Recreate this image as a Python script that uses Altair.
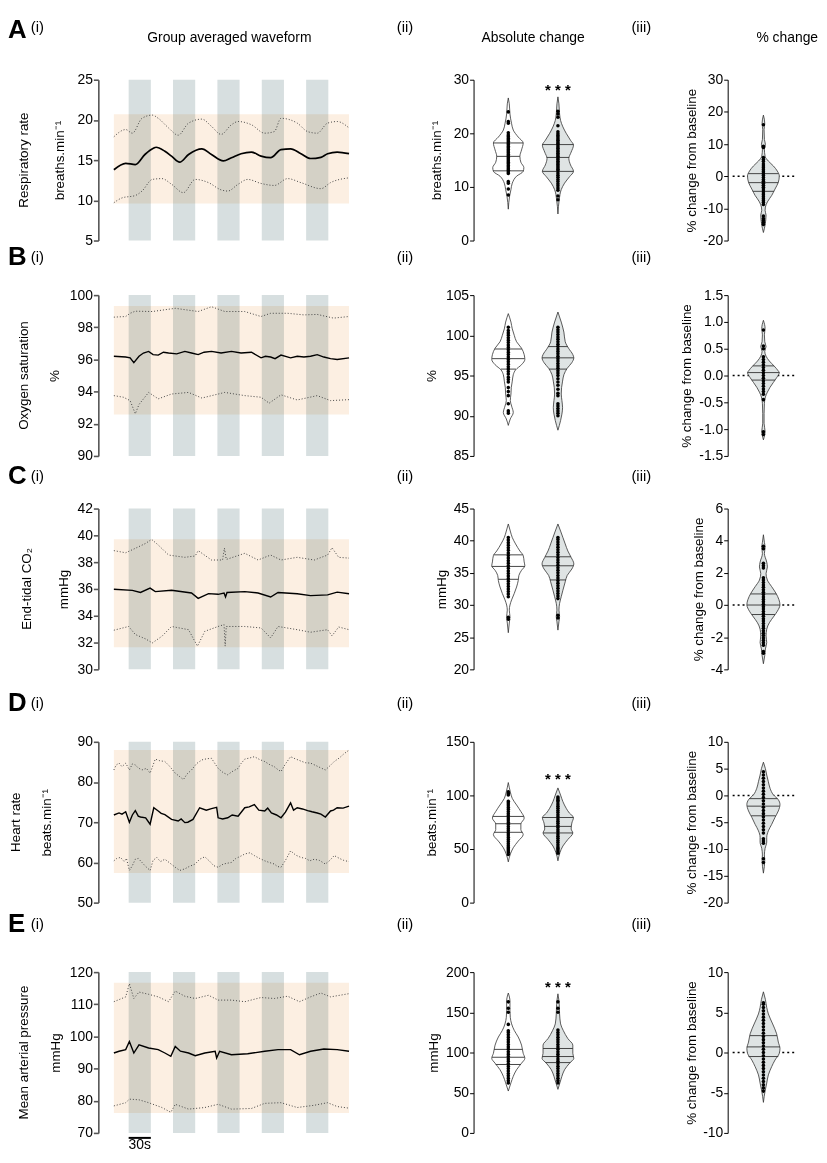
import altair as alt
import pandas as pd

FONT = "Liberation Sans"
W1, W2, W3, H = 260, 138, 75, 162
GAP = 118
HALF = 1 / 3

# ---------------- protocol ----------------
STIM_START = [20, 80, 140, 200, 260]
STIM_END = [50, 110, 170, 230, 290]
REC_END = 318

# ---------------- group averaged waveforms (time s, value) ----------------
RR_MEAN = [(0, 13.8), (16, 14.6), (29, 14.45), (42, 15.7), (54, 16.5), (57, 16.6), (69, 16.1), (78, 15.5),
           (89, 14.75), (101, 15.7), (119, 16.4), (132, 15.7), (148, 14.9), (159, 15.3), (172, 15.8),
           (186, 16.0), (199, 15.5), (212, 15.3), (226, 16.3), (239, 16.4), (253, 15.8), (266, 15.2),
           (280, 15.35), (289, 15.8), (302, 16.0), (318, 15.8)]
RR_UPPER = [(0, 17.9), (16, 18.8), (25, 18.35), (38, 20.2), (52, 20.6), (60, 20.2), (74, 19.0), (87, 18.1),
            (101, 19.6), (119, 20.1), (132, 19.2), (145, 18.2), (159, 19.4), (168, 19.8), (186, 19.4),
            (204, 18.35), (217, 18.55), (226, 20.2), (248, 19.6), (262, 18.55), (275, 18.35), (289, 19.6),
            (302, 19.8), (318, 19.0)]
RR_LOWER = [(0, 9.7), (11, 10.3), (29, 10.6), (38, 11.15), (52, 12.6), (65, 12.7), (78, 12.0), (94, 10.95),
            (110, 12.6), (128, 12.2), (145, 11.3), (154, 11.15), (168, 12.0), (181, 12.6), (199, 12.1),
            (217, 11.85), (235, 12.7), (253, 12.2), (280, 11.45), (293, 12.2), (318, 12.8)]
RR_BAND = [9.6, 20.7]

SPO2_MEAN = [(0, 96.2), (16, 96.15), (22, 96.1), (27, 95.8), (34, 96.2), (40, 96.4), (47, 96.5), (53, 96.3),
             (60, 96.27), (67, 96.45), (74, 96.4), (85, 96.35), (96, 96.5), (105, 96.4), (114, 96.3),
             (122, 96.45), (132, 96.5), (145, 96.4), (159, 96.5), (172, 96.4), (186, 96.45), (199, 96.1),
             (205, 96.2), (212, 96.15), (218, 96.05), (226, 96.27), (239, 96.1), (248, 96.2), (257, 96.15),
             (266, 96.2), (275, 96.3), (284, 96.15), (293, 96.05), (302, 96.0), (318, 96.1)]
SPO2_UPPER = [(0, 98.63), (16, 98.67), (22, 98.87), (29, 99.0), (52, 98.98), (83, 99.18), (114, 98.98),
              (132, 99.28), (150, 98.98), (177, 98.98), (199, 98.67), (212, 98.87), (235, 98.87),
              (257, 98.77), (275, 98.8), (297, 98.57), (318, 98.67)]
SPO2_LOWER = [(0, 93.75), (13, 93.65), (22, 93.44), (29, 92.62), (34, 93.2), (47, 93.95), (60, 93.55),
              (78, 93.85), (101, 93.95), (119, 93.6), (150, 93.95), (177, 93.75), (199, 93.65), (210, 93.28),
              (226, 93.8), (248, 93.48), (275, 93.75), (293, 93.44), (318, 93.5)]
SPO2_BAND = [92.58, 99.32]

CO2_MEAN = [(0, 35.98), (25, 35.89), (36, 35.74), (49, 36.06), (56, 35.8), (78, 35.9), (105, 35.7),
            (114, 35.3), (128, 35.65), (141, 35.6), (149, 35.7), (151, 35.4), (153, 35.74), (177, 35.8),
            (195, 35.7), (212, 35.4), (222, 35.74), (248, 35.64), (266, 35.5), (289, 35.56), (302, 35.76),
            (318, 35.64)]
CO2_UPPER = [(0, 38.86), (16, 38.7), (29, 39.03), (43, 39.4), (51, 39.7), (60, 39.28), (74, 38.53),
             (96, 38.36), (110, 38.46), (114, 38.86), (132, 38.16), (147, 38.16), (149.5, 39.05), (152, 38.2),
             (177, 38.66), (195, 38.16), (212, 38.53), (226, 38.16), (248, 38.36), (271, 38.16), (289, 38.53),
             (295, 39.08), (304, 38.36), (318, 38.3)]
CO2_LOWER = [(0, 32.92), (20, 33.2), (29, 32.6), (43, 32.27), (52, 31.97), (65, 32.47), (78, 33.2),
             (101, 32.96), (113, 31.73), (123, 32.84), (141, 33.2), (149, 33.34), (150.5, 31.73), (152, 33.2),
             (177, 33.2), (199, 33.09), (212, 32.35), (222, 33.2), (248, 32.96), (266, 32.77), (289, 32.96),
             (295, 32.5), (304, 33.16), (318, 32.96)]
CO2_BAND = [31.65, 39.7]

HR_MEAN = [(0, 71.8), (7, 72.3), (11, 72.0), (16, 72.6), (21, 70.0), (25, 71.8), (29, 72.9), (33, 71.5),
           (36, 71.3), (43, 71.1), (49, 69.5), (54, 73.6), (60, 72.8), (64, 72.2), (69, 71.9), (78, 70.7),
           (87, 70.3), (91, 70.8), (96, 69.9), (100, 70.0), (107, 70.7), (116, 73.6), (125, 73.0), (132, 73.4),
           (139, 73.7), (141, 71.1), (147, 70.8), (154, 71.1), (160, 71.8), (168, 71.5), (177, 73.6),
           (183, 73.8), (190, 74.4), (196, 73.0), (204, 72.8), (208, 73.5), (213, 72.3), (220, 71.8),
           (226, 71.1), (232, 72.5), (239, 74.8), (243, 73.0), (248, 73.6), (255, 73.3), (262, 72.9),
           (268, 72.6), (275, 72.3), (280, 72.0), (286, 71.3), (293, 72.8), (297, 73.0), (302, 73.6),
           (310, 73.5), (318, 74.0)]
HR_UPPER = [(0, 83.0), (3, 84.2), (7, 84.7), (11, 83.8), (16, 84.7), (21, 83.0), (25, 84.5), (29, 84.25),
            (33, 83.5), (38, 83.0), (44, 83.4), (49, 82.2), (56, 85.7), (62, 85.3), (69, 85.1), (75, 84.0),
            (83, 82.2), (88, 81.5), (94, 80.6), (99, 82.0), (105, 83.0), (112, 84.6), (119, 85.5),
            (126, 85.8), (132, 85.9), (137, 84.5), (141, 83.4), (148, 82.3), (154, 81.8), (160, 82.6),
            (168, 83.4), (172, 84.6), (177, 85.7), (184, 86.0), (190, 86.3), (197, 85.6), (204, 85.1),
            (210, 84.4), (217, 83.8), (221, 83.2), (226, 82.6), (232, 84.5), (239, 86.3), (245, 85.8),
            (253, 85.2), (259, 84.8), (266, 84.7), (272, 84.2), (280, 83.5), (286, 83.0), (292, 84.0),
            (298, 85.1), (305, 86.0), (311, 87.0), (318, 87.95)]
HR_LOWER = [(0, 60.4), (4, 61.0), (9, 61.25), (14, 60.2), (17, 61.0), (21, 58.0), (25, 59.2), (29, 60.8),
            (33, 61.0), (38, 60.0), (43, 59.0), (49, 58.0), (53, 60.5), (58, 61.25), (63, 60.2), (69, 60.8),
            (76, 59.8), (83, 58.8), (89, 58.0), (96, 58.4), (102, 59.0), (110, 59.6), (116, 60.8),
            (123, 61.4), (130, 60.2), (135, 59.2), (141, 58.8), (148, 59.6), (159, 60.0), (165, 61.0),
            (172, 61.6), (177, 62.1), (184, 62.4), (190, 61.7), (197, 61.0), (204, 60.4), (210, 60.0),
            (217, 59.6), (221, 59.0), (226, 58.8), (232, 60.5), (239, 62.9), (246, 61.8), (253, 61.25),
            (259, 61.0), (265, 60.4), (271, 60.8), (278, 60.5), (286, 59.6), (292, 60.5), (298, 61.7),
            (305, 61.0), (311, 60.5), (318, 60.2)]
HR_BAND = [57.4, 87.95]

MAP_MEAN = [(0, 94.85), (7, 95.4), (16, 95.9), (21, 98.4), (27, 94.85), (34, 97.4), (47, 96.4), (60, 95.9),
            (69, 94.85), (77, 93.8), (83, 96.9), (90, 95.4), (101, 94.85), (110, 94.0), (123, 94.85),
            (137, 95.4), (139, 93.3), (143, 95.4), (159, 94.3), (181, 94.6), (204, 95.4), (222, 95.9),
            (239, 95.9), (251, 94.3), (266, 95.4), (284, 96.1), (302, 95.9), (318, 95.4)]
MAP_UPPER = [(0, 110.8), (16, 112.3), (21, 116.4), (27, 111.8), (34, 113.8), (47, 113.1), (60, 112.3),
             (74, 110.8), (83, 114.1), (96, 112.5), (110, 111.8), (128, 112.8), (141, 111.3), (159, 111.3),
             (177, 110.8), (199, 112.1), (217, 111.8), (235, 112.5), (251, 110.8), (266, 112.3), (280, 113.5),
             (293, 112.3), (318, 113.3)]
MAP_LOWER = [(0, 78.4), (16, 79.4), (21, 80.5), (34, 80.3), (47, 79.4), (65, 77.9), (77, 76.4), (83, 78.9),
             (101, 77.4), (123, 77.9), (141, 78.9), (159, 77.4), (186, 77.6), (204, 79.2), (226, 79.4),
             (248, 77.9), (271, 78.6), (289, 79.4), (302, 78.2), (318, 77.7)]
MAP_BAND = [76.2, 116.7]

# ---------------- violins: (value, relative width) ----------------
RR_ABS_BASE = [(5.85, 0), (8.3, 0.08), (9.5, 0.16), (10.7, 0.24), (12.0, 0.5), (12.9, 0.9), (13.6, 0.94),
               (14.6, 0.76), (15.7, 0.7), (16.9, 0.8), (18.2, 0.9), (19.3, 0.6), (20.6, 0.3), (21.8, 0.2),
               (23.6, 0.1), (25.5, 0.06), (26.6, 0)]
RR_ABS_BASE_Q = [(13.0, 0.92), (15.7, 0.7), (18.2, 0.9)]
RR_ABS_BASE_DOTS = [8.5, 9.6, 10.7, 11.0, 12.5, 12.8, 13.1, 13.4, 13.7, 14.0, 14.3, 14.6, 14.9, 15.2, 15.5,
                    15.8, 16.1, 16.4, 16.7, 17.0, 17.3, 17.6, 17.9, 18.2, 18.5, 18.8, 19.1, 19.4, 19.7, 20.1,
                    21.9, 22.2, 24.0]
RR_ABS_STIM = [(4.95, 0), (7.65, 0.08), (9.5, 0.2), (10.7, 0.4), (11.9, 0.7), (12.9, 0.94), (14.1, 0.76),
               (15.3, 0.66), (16.5, 0.8), (17.8, 0.94), (18.7, 0.76), (20.0, 0.5), (21.2, 0.3), (22.4, 0.16),
               (23.6, 0.1), (25.5, 0.06), (26.8, 0)]
RR_ABS_STIM_Q = [(12.9, 0.94), (15.5, 0.67), (17.9, 0.94)]
RR_ABS_STIM_DOTS = [7.6, 8.3, 9.4, 9.8, 10.2, 10.6, 11.0, 11.4, 11.8, 12.2, 12.6, 13.0, 13.3, 13.6, 13.9,
                    14.2, 14.5, 14.8, 15.1, 15.4, 15.7, 16.0, 16.3, 16.6, 16.9, 17.2, 17.5, 17.8, 18.1, 18.4,
                    18.7, 19.0, 19.3, 19.6, 19.9, 20.3, 21.4, 23.0, 23.6, 24.1]
RR_PCT = [(-17.5, 0), (-15.2, 0.1), (-13.7, 0.14), (-12.1, 0.16), (-10.6, 0.1), (-9.6, 0.12), (-8.0, 0.24),
          (-6.0, 0.5), (-4.0, 0.7), (-1.9, 0.9), (0.1, 0.96), (1.6, 0.84), (3.2, 0.6), (4.7, 0.3), (6.2, 0.1),
          (8.4, 0.06), (9.9, 0.12), (11.4, 0.06), (14.5, 0.04), (16.5, 0.08), (19.0, 0)]
RR_PCT_Q = [(-4.7, 0.64), (-2.0, 0.9), (0.8, 0.92)]
RR_PCT_DOTS = [-15.0, -14.4, -13.8, -13.2, -12.4, -8.8, -8.2, -7.6, -7.0, -6.4, -5.8, -5.2, -4.6, -4.0, -3.4,
               -2.8, -2.2, -1.6, -1.0, -0.4, 0.2, 0.8, 1.4, 2.0, 2.6, 3.2, 3.8, 4.6, 5.2, 5.8, 8.9, 9.3, 16.0]

SPO2_ABS_BASE = [(88.8, 0), (89.6, 0.12), (90.4, 0.3), (91.2, 0.2), (91.9, 0.12), (92.7, 0.16), (93.5, 0.18),
                 (94.3, 0.24), (95.1, 0.3), (95.7, 0.44), (96.35, 0.8), (97.0, 1.0), (97.6, 0.96), (98.4, 0.8),
                 (99.2, 0.5), (100.0, 0.36), (100.8, 0.24), (101.65, 0.16), (102.7, 0)]
SPO2_ABS_BASE_Q = [(95.8, 0.46), (97.1, 0.98), (98.3, 0.82)]
SPO2_ABS_BASE_DOTS = [90.3, 90.6, 91.5, 92.5, 93.0, 93.5, 94.2, 94.5, 94.8, 95.2, 95.5, 95.8, 96.1, 96.4,
                      96.7, 97.0, 97.3, 97.6, 97.9, 98.2, 98.5, 98.8, 99.1, 99.4, 99.7, 100.0, 100.3, 100.6,
                      101.0]
SPO2_ABS_STIM = [(88.2, 0), (89.4, 0.16), (90.2, 0.24), (91.0, 0.28), (91.9, 0.24), (92.7, 0.2), (93.5, 0.22),
                 (94.3, 0.28), (95.1, 0.36), (95.9, 0.56), (96.6, 0.84), (97.2, 0.96), (97.6, 0.9),
                 (98.4, 0.64), (99.2, 0.44), (100.4, 0.36), (101.65, 0.2), (102.9, 0)]
SPO2_ABS_STIM_Q = [(95.8, 0.54), (97.2, 0.96), (98.6, 0.6)]
SPO2_ABS_STIM_DOTS = [90.0, 90.3, 90.6, 90.9, 91.2, 91.5, 92.5, 92.8, 93.3, 93.8, 94.2, 94.6, 95.0, 95.3,
                      95.6, 95.9, 96.2, 96.5, 96.8, 97.1, 97.4, 97.7, 98.0, 98.3, 98.6, 98.9, 99.2, 99.5,
                      99.8, 100.1, 100.4, 100.7, 101.0]
SPO2_PCT = [(-1.2, 0), (-1.04, 0.1), (-0.89, 0.04), (-0.71, 0.04), (-0.52, 0.06), (-0.4, 0.12), (-0.31, 0.24),
            (-0.22, 0.4), (-0.13, 0.6), (-0.04, 0.8), (0.055, 0.96), (0.085, 0.9), (0.18, 0.64), (0.27, 0.36),
            (0.36, 0.16), (0.45, 0.08), (0.54, 0.16), (0.63, 0.08), (0.76, 0.06), (0.88, 0.1), (1.03, 0)]
SPO2_PCT_Q = [(-0.085, 0.7), (0.055, 0.96), (0.18, 0.64)]
SPO2_PCT_DOTS = [-1.1, -1.05, -0.45, -0.35, -0.3, -0.25, -0.2, -0.15, -0.1, -0.05, 0.0, 0.05, 0.1, 0.15, 0.2,
                 0.25, 0.3, 0.35, 0.5, 0.55, 0.85]

CO2_ABS_BASE = [(25.7, 0), (27.2, 0.06), (28.2, 0.1), (29.2, 0.06), (30.0, 0.1), (30.8, 0.2), (31.8, 0.36),
                (32.8, 0.5), (33.8, 0.6), (34.6, 0.64), (35.4, 0.8), (36.1, 1.0), (36.7, 0.96), (37.7, 0.9),
                (38.4, 0.7), (39.5, 0.44), (40.5, 0.24), (41.5, 0.12), (42.6, 0)]
CO2_ABS_BASE_Q = [(34.0, 0.6), (36.0, 1.0), (37.8, 0.88)]
CO2_ABS_BASE_DOTS = [27.8, 28.1, 31.3, 31.7, 32.1, 32.5, 32.9, 33.3, 33.7, 34.1, 34.5, 34.9, 35.3, 35.7, 36.1,
                     36.5, 36.9, 37.3, 37.7, 38.1, 38.5, 38.9, 39.3, 39.7, 40.1, 40.5]
CO2_ABS_STIM = [(26.1, 0), (27.4, 0.06), (28.2, 0.1), (29.2, 0.06), (30.25, 0.1), (31.3, 0.2), (32.3, 0.3),
                (33.6, 0.44), (34.6, 0.56), (35.6, 0.84), (36.4, 0.96), (37.4, 0.8), (38.4, 0.6), (39.5, 0.44),
                (40.5, 0.3), (41.5, 0.16), (42.6, 0)]
CO2_ABS_STIM_Q = [(33.9, 0.48), (36.1, 0.94), (37.5, 0.78)]
CO2_ABS_STIM_DOTS = [28.0, 28.4, 31.0, 31.4, 31.8, 32.2, 32.6, 33.0, 33.4, 33.8, 34.2, 34.6, 35.0, 35.4, 35.8,
                     36.2, 36.6, 37.0, 37.4, 37.8, 38.2, 38.6, 39.0, 39.4, 39.8, 40.2, 40.5]
CO2_PCT = [(-3.65, 0), (-3.14, 0.08), (-2.73, 0.12), (-2.33, 0.2), (-1.92, 0.16), (-1.5, 0.2), (-1.1, 0.36),
           (-0.69, 0.64), (-0.39, 0.84), (0.02, 1.0), (0.33, 0.94), (0.73, 0.76), (1.14, 0.5), (1.55, 0.24),
           (1.96, 0.16), (2.37, 0.24), (2.67, 0.2), (3.2, 0.06), (3.6, 0.1), (3.9, 0.06), (4.37, 0)]
CO2_PCT_Q = [(-0.59, 0.7), (0.0, 1.0), (0.69, 0.78)]
CO2_PCT_DOTS = [-3.0, -2.9, -2.5, -2.35, -2.2, -2.05, -1.9, -1.75, -1.6, -1.45, -1.3, -1.15, -1.0, -0.85, -0.7,
                -0.55, -0.4, -0.25, -0.1, 0.05, 0.2, 0.35, 0.5, 0.65, 0.8, 0.95, 1.1, 1.25, 1.4, 1.55, 1.7,
                2.3, 2.45, 2.6, 3.5, 3.65]

HR_ABS_BASE = [(38, 0), (45.1, 0.12), (51.2, 0.3), (57.4, 0.6), (63.5, 0.9), (68.1, 0.76), (73.3, 0.76),
               (78.8, 0.96), (85.0, 0.76), (91.1, 0.5), (97.2, 0.24), (103.4, 0.12), (112, 0)]
HR_ABS_BASE_Q = [(65.6, 0.86), (73.6, 0.76), (80.4, 0.94)]
HR_ABS_BASE_DOTS = [45.0, 47.0, 48.5, 50.0, 51.5, 53.0, 55.0, 57.0, 59.0, 61.0, 63.0, 65.0, 67.0, 69.0, 71.0,
                    73.0, 75.0, 77.0, 79.0, 81.0, 83.0, 85.0, 87.0, 89.0, 91.0, 93.0, 94.5, 100.5, 102.0, 103.5]
HR_ABS_STIM = [(39, 0), (46.6, 0.12), (52.8, 0.3), (58.9, 0.6), (65.0, 0.9), (68.7, 0.8), (74.2, 0.84),
               (79.4, 0.94), (83.4, 0.7), (88.0, 0.5), (94.2, 0.3), (100.3, 0.16), (107, 0)]
HR_ABS_STIM_Q = [(65.0, 0.9), (71.1, 0.8), (79.4, 0.94)]
HR_ABS_STIM_DOTS = [46.0, 47.5, 49.0, 50.5, 52.0, 54.0, 56.0, 58.0, 60.0, 62.0, 64.0, 66.0, 68.0, 70.0, 72.0,
                    74.0, 76.0, 78.0, 80.0, 82.0, 84.0, 86.0, 88.0, 90.0, 92.0, 94.0, 95.5, 97.0, 98.5]
HR_PCT = [(-14.5, 0), (-12.1, 0.08), (-11.1, 0.06), (-9.9, 0.1), (-8.7, 0.2), (-7.8, 0.2), (-6.6, 0.3),
          (-5.4, 0.5), (-4.1, 0.7), (-2.9, 0.9), (-1.7, 1.0), (-0.8, 0.9), (0.12, 0.6), (1.34, 0.4),
          (2.56, 0.3), (3.8, 0.2), (5.0, 0.12), (6.2, 0)]
HR_PCT_Q = [(-3.8, 0.74), (-2.0, 0.98), (-0.6, 0.86)]
HR_PCT_DOTS = [-12.5, -11.8, -8.9, -8.5, -8.1, -7.0, -6.4, -5.8, -5.2, -4.6, -4.0, -3.4, -2.8, -2.2, -1.6,
               -1.0, -0.4, 0.2, 0.8, 1.4, 2.0, 2.6, 3.2, 3.8, 4.4]

MAP_ABS_BASE = [(52.1, 0), (62.3, 0.16), (70.4, 0.3), (78.6, 0.5), (86.7, 0.8), (92.8, 1.0), (99.0, 0.9),
                (109.2, 0.8), (119.3, 0.6), (127.5, 0.36), (135.6, 0.2), (143.8, 0.12), (152, 0.1),
                (164, 0.1), (174, 0)]
MAP_ABS_BASE_Q = [(85.1, 0.76), (94.1, 0.98), (103.9, 0.86)]
MAP_ABS_BASE_DOTS = [62, 65, 68, 71, 74, 77, 80, 83, 86, 89, 92, 95, 98, 101, 104, 107, 110, 113, 116, 119,
                     122, 125, 127, 135, 150, 155, 163]
MAP_ABS_STIM = [(54.2, 0), (62.3, 0.12), (70.4, 0.24), (78.6, 0.4), (86.7, 0.7), (92.8, 0.96), (99.0, 0.9),
                (109.2, 0.9), (117.3, 0.6), (127.5, 0.32), (135.6, 0.16), (148, 0.1), (160, 0.08), (173, 0)]
MAP_ABS_STIM_Q = [(87.5, 0.76), (95.0, 0.94), (105.0, 0.9)]
MAP_ABS_STIM_DOTS = [62, 65, 68, 71, 74, 77, 80, 83, 86, 89, 92, 95, 98, 101, 104, 107, 110, 113, 116, 119,
                     122, 125, 128, 150, 155, 163]
MAP_PCT = [(-6.2, 0), (-4.8, 0.1), (-3.8, 0.2), (-2.78, 0.3), (-1.76, 0.5), (-0.94, 0.7), (-0.1, 0.96),
           (0.5, 1.0), (1.3, 0.9), (2.33, 0.8), (3.55, 0.56), (4.8, 0.3), (5.6, 0.2), (6.6, 0.12), (7.55, 0)]
MAP_PCT_Q = [(-0.5, 0.9), (0.7, 1.0), (2.1, 0.82)]
MAP_PCT_DOTS = [-4.8, -4.4, -4.0, -3.6, -3.2, -2.8, -2.4, -2.0, -1.6, -1.2, -0.8, -0.4, 0.0, 0.4, 0.8, 1.2,
                1.6, 2.0, 2.4, 2.8, 3.2, 3.6, 4.0, 4.4, 4.8, 5.2, 5.6, 6.0, 6.2]

# ---------------- labels / axes ----------------
ROW_LETTERS = ["A", "B", "C", "D", "E"]
MEASURES = ["Respiratory rate", "Oxygen saturation", "End-tidal CO\u2082", "Heart rate", "Mean arterial pressure"]
UNITS = ["breaths.min\u207b\u00b9", "%", "mmHg", "beats.min\u207b\u00b9", "mmHg"]
PCT_TITLE = "% change from baseline"
WAVE_DOMAIN = [[5, 25], [90, 100], [30, 42], [50, 90], [70, 120]]
WAVE_TICKS = [[5, 10, 15, 20, 25], [90, 92, 94, 96, 98, 100], [30, 32, 34, 36, 38, 40, 42],
              [50, 60, 70, 80, 90], [70, 80, 90, 100, 110, 120]]
ABS_DOMAIN = [[0, 30], [85, 105], [20, 45], [0, 150], [0, 200]]
ABS_TICKS = [[0, 10, 20, 30], [85, 90, 95, 100, 105], [20, 25, 30, 35, 40, 45], [0, 50, 100, 150],
             [0, 50, 100, 150, 200]]
PCT_DOMAIN = [[-20, 30], [-1.5, 1.5], [-4, 6], [-20, 10], [-10, 10]]
PCT_TICKS = [[-20, -10, 0, 10, 20, 30], [-1.5, -1.0, -0.5, 0.0, 0.5, 1.0, 1.5], [-4, -2, 0, 2, 4, 6],
             [-20, -15, -10, -5, 0, 5, 10], [-10, -5, 0, 5, 10]]
PCT_FORMAT = [None, ".1f", None, None, None]
STARS = [27.2, None, None, 110.4, 175.6]   # y position (data units) of "***" above stimulation violin

WAVES = [(RR_MEAN, RR_UPPER, RR_LOWER, RR_BAND), (SPO2_MEAN, SPO2_UPPER, SPO2_LOWER, SPO2_BAND),
         (CO2_MEAN, CO2_UPPER, CO2_LOWER, CO2_BAND), (HR_MEAN, HR_UPPER, HR_LOWER, HR_BAND),
         (MAP_MEAN, MAP_UPPER, MAP_LOWER, MAP_BAND)]
ABS = [(RR_ABS_BASE, RR_ABS_BASE_Q, RR_ABS_BASE_DOTS, RR_ABS_STIM, RR_ABS_STIM_Q, RR_ABS_STIM_DOTS),
       (SPO2_ABS_BASE, SPO2_ABS_BASE_Q, SPO2_ABS_BASE_DOTS, SPO2_ABS_STIM, SPO2_ABS_STIM_Q, SPO2_ABS_STIM_DOTS),
       (CO2_ABS_BASE, CO2_ABS_BASE_Q, CO2_ABS_BASE_DOTS, CO2_ABS_STIM, CO2_ABS_STIM_Q, CO2_ABS_STIM_DOTS),
       (HR_ABS_BASE, HR_ABS_BASE_Q, HR_ABS_BASE_DOTS, HR_ABS_STIM, HR_ABS_STIM_Q, HR_ABS_STIM_DOTS),
       (MAP_ABS_BASE, MAP_ABS_BASE_Q, MAP_ABS_BASE_DOTS, MAP_ABS_STIM, MAP_ABS_STIM_Q, MAP_ABS_STIM_DOTS)]
PCT = [(RR_PCT, RR_PCT_Q, RR_PCT_DOTS), (SPO2_PCT, SPO2_PCT_Q, SPO2_PCT_DOTS), (CO2_PCT, CO2_PCT_Q, CO2_PCT_DOTS),
       (HR_PCT, HR_PCT_Q, HR_PCT_DOTS), (MAP_PCT, MAP_PCT_Q, MAP_PCT_DOTS)]

# ---------------- layout geometry (pixels) ----------------
ROW_TOP_EXT = [68, 23, 18, 21, 25]        # space kept above each row's plot area
ROW_BOT_EXT = [32, 35, 52, 45, 18]        # space kept below each row's plot area
NAME_X = [-75, -75, -72, -83, -75]
UNIT_X = [-39, -44, -35, -52, -43]
ABS_UNIT_X = [-37, -42, -32, -42, -40]
PCT_UNIT_X = [-36, -41, -29, -36, -36]
NEXT_LETTER_Y = [187, 190, 204, 192]
NEXT_PAREN_Y = [184, 187, 201, 189]

XS1 = alt.Scale(domain=[-21, 328], nice=False, zero=False)
XS2 = alt.Scale(domain=[0.3, 3.06], nice=False, zero=False)
XS3 = alt.Scale(domain=[0.28, 1.78], nice=False, zero=False)

MINUS_FIX = "replace(datum.label, '\u2212', '-')"


def one_row():
    return pd.DataFrame({"k": [0]})


def txt(s, x, y, size=14, weight="normal", angle=0, align="center", baseline="alphabetic"):
    return alt.Chart(pd.DataFrame({"s": [s]})).mark_text(
        font=FONT, fontSize=size, fontWeight=weight, angle=angle, align=align,
        baseline=baseline, color="black"
    ).encode(x=alt.value(x), y=alt.value(y), text="s:N")


def spacer(top, bot):
    return alt.Chart(one_row()).mark_rule(opacity=0, strokeWidth=1, color="white").encode(
        x=alt.value(-90.5), y=alt.value(-top), y2=alt.value(H + bot))


def yaxis(values, title, tx, grey=False, fmt=None):
    kw = dict(values=values, title=title, titleX=tx, titleY=H / 2, titleAngle=270,
              titleAlign="center", titleBaseline="middle", titleFont=FONT, titleFontSize=13.5,
              titleFontWeight="normal", titleColor="black",
              labelFont=FONT, labelFontSize=14, labelColor="black", labelPadding=1,
              labelOverlap=False, labelFlush=False, grid=False,
              tickSize=5 if grey else 4,
              domainColor="#555" if grey else "black", tickColor="#555" if grey else "black",
              domainWidth=1.6 if grey else 1, tickWidth=1.6 if grey else 1,
              labelExpr=MINUS_FIX)
    if fmt:
        kw["format"] = fmt
    return alt.Axis(**kw)


def wave_panel(i):
    mean, up, lo, band = WAVES[i]
    ys = alt.Scale(domain=WAVE_DOMAIN[i], nice=False, zero=False)
    ax = yaxis(WAVE_TICKS[i], UNITS[i], UNIT_X[i], grey=True)

    def Y(f):
        return alt.Y(f, scale=ys, axis=ax)

    def X(f):
        return alt.X(f, scale=XS1, axis=None)

    band_df = pd.DataFrame({"t0": [0], "t1": [REC_END], "lo": [band[0]], "hi": [band[1]]})
    band_l = alt.Chart(band_df).mark_rect(color="#fcefe2").encode(x=X("t0:Q"), x2="t1:Q", y=Y("lo:Q"), y2="hi:Q")
    stim_df = pd.DataFrame({"s": STIM_START, "e": STIM_END})
    stim_df["y0"] = WAVE_DOMAIN[i][0]
    stim_df["y1"] = WAVE_DOMAIN[i][1]
    stim_l = alt.Chart(stim_df).mark_rect(color="#d7dfe0", blend="multiply").encode(
        x=X("s:Q"), x2="e:Q", y=Y("y0:Q"), y2="y1:Q")
    interp = "monotone" if i == 0 else "linear"
    up_l = alt.Chart(pd.DataFrame(up, columns=["t", "v"])).mark_line(
        color="#444", strokeWidth=1, strokeDash=[1, 2], interpolate=interp).encode(x=X("t:Q"), y=Y("v:Q"))
    lo_l = alt.Chart(pd.DataFrame(lo, columns=["t", "v"])).mark_line(
        color="#444", strokeWidth=1, strokeDash=[1, 2], interpolate=interp).encode(x=X("t:Q"), y=Y("v:Q"))
    mean_l = alt.Chart(pd.DataFrame(mean, columns=["t", "v"])).mark_line(
        color="black", strokeWidth=1.7 if i == 0 else 1.4, interpolate=interp).encode(x=X("t:Q"), y=Y("v:Q"))

    layers = [band_l, stim_l, up_l, lo_l, mean_l,
              txt(MEASURES[i], NAME_X[i], H / 2, size=13.5, angle=270, baseline="middle")]
    if i == 0:
        layers += [txt("A", -91, -42, size=26, weight="bold", align="left"),
                   txt("(i)", -68, -48, size=15, align="left"),
                   txt("Group averaged waveform", 132, -38, size=14)]
    if i < 4:
        layers += [txt(ROW_LETTERS[i + 1], -91, NEXT_LETTER_Y[i], size=26, weight="bold", align="left"),
                   txt("(i)", -68, NEXT_PAREN_Y[i], size=15, align="left")]
    if i == 4:
        sb = pd.DataFrame({"a": [STIM_START[0]], "b": [STIM_END[0]], "s": ["30s"]})
        sb["m"] = (sb["a"] + sb["b"]) / 2
        layers += [alt.Chart(sb).mark_rule(color="black", strokeWidth=2).encode(
                       x=X("a:Q"), x2="b:Q", y=alt.value(H + 5)),
                   alt.Chart(sb).mark_text(font=FONT, fontSize=14, color="black", baseline="alphabetic").encode(
                       x=X("m:Q"), y=alt.value(H + 16), text="s:N")]
    layers.append(spacer(ROW_TOP_EXT[i], ROW_BOT_EXT[i]))
    return alt.layer(*layers).properties(width=W1, height=H)


def violin(shape, quart, dots, center, fill, xs, Y):
    calc = dict(lo=f"{center} - datum.d * {HALF}", hi=f"{center} + datum.d * {HALF}")
    area = alt.Chart(pd.DataFrame(shape, columns=["v", "d"])).transform_calculate(**calc).mark_area(
        orient="horizontal", interpolate="monotone", fill=fill, fillOpacity=1, stroke="#333", strokeWidth=0.8
    ).encode(y=Y("v:Q"), x=alt.X("lo:Q", scale=xs, axis=None), x2="hi:Q")
    qr = alt.Chart(pd.DataFrame(quart, columns=["v", "d"])).transform_calculate(**calc).mark_rule(
        color="#333", strokeWidth=0.9
    ).encode(y=Y("v:Q"), x=alt.X("lo:Q", scale=xs, axis=None), x2="hi:Q")
    pts = alt.Chart(pd.DataFrame({"v": dots})).transform_calculate(c=f"{center}").mark_circle(
        size=13, color="black", opacity=1
    ).encode(y=Y("v:Q"), x=alt.X("c:Q", scale=xs, axis=None))
    return [area, qr, pts]


def abs_panel(i):
    b, bq, bd, s, sq, sd = ABS[i]
    ys = alt.Scale(domain=ABS_DOMAIN[i], nice=False, zero=False)
    ax = yaxis(ABS_TICKS[i], UNITS[i], ABS_UNIT_X[i])

    def Y(f):
        return alt.Y(f, scale=ys, axis=ax)

    layers = violin(b, bq, bd, 1, "white", XS2, Y) + violin(s, sq, sd, 2, "#dfe4e4", XS2, Y)
    if STARS[i] is not None:
        sdf = pd.DataFrame({"v": [STARS[i]], "s": ["* * *"]})
        layers.append(alt.Chart(sdf).transform_calculate(c="2").mark_text(
            font=FONT, fontSize=15, fontWeight="bold", color="black", baseline="alphabetic").encode(
            x=alt.X("c:Q", scale=XS2, axis=None), y=Y("v:Q"), text="s:N"))
    if i == 0:
        layers += [txt("(ii)", -69, -48, size=15), txt("Absolute change", 60, -38, size=14)]
    if i < 4:
        layers.append(txt("(ii)", -69, NEXT_PAREN_Y[i], size=15))
    return alt.layer(*layers).properties(width=W2, height=H)


def pct_panel(i):
    shape, q, dots = PCT[i]
    ys = alt.Scale(domain=PCT_DOMAIN[i], nice=False, zero=False)
    ax = yaxis(PCT_TICKS[i], PCT_TITLE, PCT_UNIT_X[i], fmt=PCT_FORMAT[i])

    def Y(f):
        return alt.Y(f, scale=ys, axis=ax)

    zero = alt.Chart(pd.DataFrame({"z": [0]})).mark_rule(
        color="black", strokeWidth=1.5, strokeDash=[2, 3]).encode(
        y=Y("z:Q"), x=alt.value(5), x2=alt.value(67))
    layers = [zero] + violin(shape, q, dots, 1, "#dfe4e4", XS3, Y)
    if i == 0:
        layers += [txt("(iii)", -87, -48, size=15), txt("% change", 60, -38, size=14)]
    if i < 4:
        layers.append(txt("(iii)", -87, NEXT_PAREN_Y[i], size=15))
    return alt.layer(*layers).properties(width=W3, height=H)


rows = [alt.hconcat(wave_panel(i), abs_panel(i), pct_panel(i), spacing=GAP, bounds="flush") for i in range(5)]
chart = alt.vconcat(*rows, spacing=0, bounds="full").properties(padding=0).configure_view(stroke=None)
chart.save("out.html", embed_options={"renderer": "svg", "actions": False})
